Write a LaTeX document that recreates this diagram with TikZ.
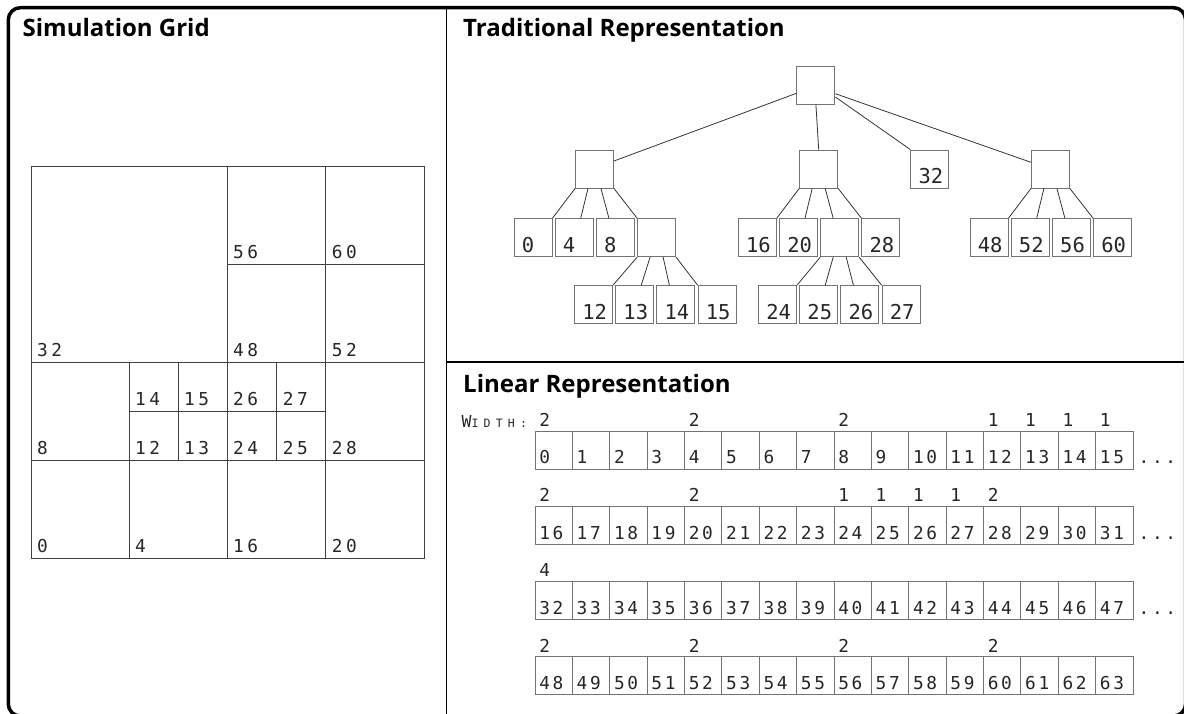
\documentclass[tikz,border=0pt]{standalone}
\usepackage{fontspec}
\usetikzlibrary{calc}
\newfontfamily\titlefont{Open Sans}
\newfontfamily\gridfontfam[LetterSpace=20]{DejaVu Sans Mono}
\newfontfamily\treefontfam{DejaVu Sans Mono}
\newfontfamily\linfontfam[LetterSpace=15]{DejaVu Sans Mono}
\newfontfamily\wfontfam[LetterSpace=45]{DejaVu Sans Mono}
\begin{document}
\begin{tikzpicture}[x=1pt,y=-1pt,
  title/.style={anchor=base west, inner sep=0, font=\titlefont\bfseries\fontsize{24}{24}\selectfont},
  gtxt/.style={anchor=base west, inner sep=0, text=black!85, font=\gridfontfam\fontsize{17.8}{17.8}\selectfont},
  tbox/.style={draw=black!55, line width=0.9pt, minimum width=38pt, minimum height=38pt, inner sep=0},
  ttxt/.style={anchor=base west, inner sep=0, text=black!85, font=\treefontfam\fontsize{20.5}{20.5}\selectfont},
  lcell/.style={draw=black!55, line width=0.9pt, minimum width=37.375pt, minimum height=38pt, inner sep=0},
  ltxt/.style={anchor=base west, inner sep=0, text=black!85, font=\linfontfam\fontsize{17.8}{17.8}\selectfont},
  edge/.style={draw=black!80, line width=0.8pt},
  gline/.style={draw=black!75, line width=0.9pt},
  frame/.style={line width=3.5pt, rounded corners=12pt},
  divider/.style={line width=1.3pt}
]
\useasboundingbox (0,0) rectangle (1184,714);

% frame and dividers
\draw[frame] (8.3,7.7) rectangle (1185.6,716);
\draw[divider] (446.7,7.7) -- (446.7,716);
\draw[divider] (446.7,362) -- (1185.6,362);

% titles
\node[title] (tsim) at (22.5,36.7) {Simulation Grid};
\node[title] (ttrad) at (463,36.7) {Traditional Representation};
\node[title] (tlin) at (463,392.7) {Linear Representation};

% ---------------- Simulation grid ----------------
\draw[gline] (31,166) rectangle (424,558);
\draw[gline] (31,362) -- (424,362);
\draw[gline] (31,460) -- (424,460);
\draw[gline] (227,264) -- (424,264);
\draw[gline] (227,166) -- (227,558);
\draw[gline] (325.7,166) -- (325.7,558);
\draw[gline] (129,362) -- (129,558);
\draw[gline] (129,411) -- (325.7,411);
\draw[gline] (178,362) -- (178,460);
\draw[gline] (276.7,362) -- (276.7,460);

\foreach \n/\x/\y in {32/31/362, 56/227/264, 60/325.7/264, 48/227/362, 52/325.7/362,
  14/129/411, 15/178/411, 26/227/411, 27/276.7/411,
  8/31/460, 12/129/460, 13/178/460, 24/227/460, 25/276.7/460, 28/325.7/460,
  0/31/558, 4/129/558, 16/227/558, 20/325.7/558}{
  \node[gtxt] (g\n) at (\x+6,\y-5.2) {\n};
}

% ---------------- Traditional representation ----------------
\node[tbox] (root) at (815.9,85) {};
\node[tbox] (L) at (594.5,169) {};
\node[tbox] (M) at (818.7,169) {};
\node[tbox] (b32) at (929.8,169) {};
\node[tbox] (R) at (1050.4,169) {};

\node[tbox] (b0) at (533,237.7) {};
\node[tbox] (b4) at (574.2,237.7) {};
\node[tbox] (b8) at (615.4,237.7) {};
\node[tbox] (bx1) at (656.6,237.7) {};
\node[tbox] (b16) at (757.3,237.7) {};
\node[tbox] (b20) at (798.5,237.7) {};
\node[tbox] (bx2) at (839.7,237.7) {};
\node[tbox] (b28) at (880.9,237.7) {};
\node[tbox] (b48) at (989,237.7) {};
\node[tbox] (b52) at (1030.2,237.7) {};
\node[tbox] (b56) at (1071.4,237.7) {};
\node[tbox] (b60) at (1112.6,237.7) {};

\node[tbox] (b12) at (593.5,304.7) {};
\node[tbox] (b13) at (634.7,304.7) {};
\node[tbox] (b14) at (675.9,304.7) {};
\node[tbox] (b15) at (717.1,304.7) {};
\node[tbox] (b24) at (777.5,304.7) {};
\node[tbox] (b25) at (818.7,304.7) {};
\node[tbox] (b26) at (859.9,304.7) {};
\node[tbox] (b27) at (901.1,304.7) {};

\foreach \n in {32,0,4,8,16,20,28,48,52,56,60,12,13,14,15,24,25,26,27}{
  \node[ttxt] (tb\n) at ([shift={(8pt,5pt)}]b\n.south west) {\n};
}

\draw[edge] ([yshift=-8.3pt]root.west) -- ([yshift=8pt]L.east);
\draw[edge] (root.south) -- (M.north);
\draw[edge] ([yshift=-12pt]root.east) -- (b32.north west);
\draw[edge] ([yshift=-8.7pt]root.east) -- ([yshift=6.7pt]R.west);

\foreach \p/\a/\b/\c/\d in {L/b0/b4/b8/bx1, M/b16/b20/bx2/b28, R/b48/b52/b56/b60,
  bx1/b12/b13/b14/b15, bx2/b24/b25/b26/b27}{
  \draw[edge] (\p.south west) -- (\a.north east);
  \draw[edge] ($(\p.south west)!0.333!(\p.south east)$) -- ($(\b.north west)!0.667!(\b.north east)$);
  \draw[edge] ($(\p.south west)!0.667!(\p.south east)$) -- ($(\c.north west)!0.333!(\c.north east)$);
  \draw[edge] (\p.south east) -- (\d.north west);
}

% ---------------- Linear representation ----------------
\foreach \r in {0,...,3}{
  \foreach \k in {0,...,15}{
    \pgfmathtruncatemacro\i{16*\r+\k}
    \node[lcell] (c\i) at ({535+37.375*(\k+0.5)},{431+75.2*\r+19}) {};
    \node[ltxt] (tc\i) at ([shift={(4.5pt,5.5pt)}]c\i.south west) {\i};
  }
}

\node[anchor=base west, inner sep=0, text=black!85] (wlabel) at (461.5,427)
  {\wfontfam\fontsize{16.5}{16.5}\selectfont W\fontsize{11.5}{11.5}\selectfont IDTH:};

\foreach \i/\w in {0/2,4/2,8/2,12/1,13/1,14/1,15/1,
  16/2,20/2,24/1,25/1,26/1,27/1,28/2,
  32/4,
  48/2,52/2,56/2,60/2}{
  \node[ltxt] (w\i) at ([shift={(4.5pt,4pt)}]c\i.north west) {\w};
}

\foreach \i in {15,31,47}{
  \node[ltxt] (dots\i) at ([shift={(5pt,5.5pt)}]c\i.south east) {...};
}
\end{tikzpicture}
\end{document}
